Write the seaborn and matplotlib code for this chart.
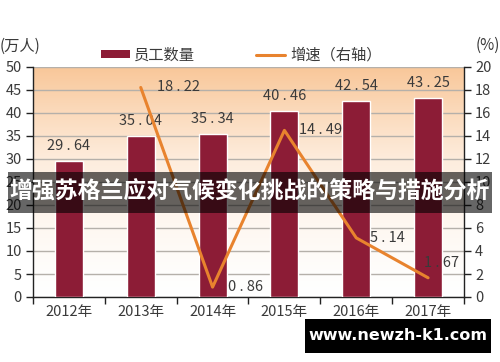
import numpy as np
import pandas as pd
import matplotlib
matplotlib.use("Agg")
import matplotlib.pyplot as plt
import seaborn as sns
from matplotlib.patches import Patch, Rectangle
from matplotlib.lines import Line2D
from matplotlib.colors import LinearSegmentedColormap

# ---- data ----
years = ['2012年', '2013年', '2014年', '2015年', '2016年', '2017年']
staff = [29.64, 35.04, 35.34, 40.46, 42.54, 43.25]
growth = [np.nan, 18.22, 0.86, 14.49, 5.14, 1.67]
left_ticks = [0, 5, 10, 15, 20, 25, 30, 35, 40, 45, 50]
right_ticks = [0, 2, 4, 6, 8, 10, 12, 14, 16, 18, 20]
bar_name = '员工数量'
line_name = '增速（右轴）'
left_unit = '(万人)'
right_unit = '(%)'
banner = '增强苏格兰应对气候变化挑战的策略与措施分析'
watermark = 'www.newzh-k1.com'

sns.set_theme(style='white')
plt.rcParams['font.family'] = ['Noto Sans CJK SC', 'DejaVu Sans']

BAR = '#8c1c36'
LINE = '#e8832e'
TXT = '#3a3a3a'
W, H = 500, 362
fig = plt.figure(figsize=(W / 100, H / 100), dpi=100)
ax = fig.add_axes([33 / W, 1 - 297 / H, (464 - 33) / W, (297 - 67) / H])

# gradient background
cmap = LinearSegmentedColormap.from_list('bg', [(1, 1, 1), (0.995, 0.93, 0.87), (0.975, 0.78, 0.6)])
grad = np.linspace(0, 1, 256) ** 1.3
ax.imshow(grad[::-1, None], aspect='auto', cmap=cmap, extent=[-0.5, 5.5, 0, 50],
          zorder=0, origin='upper')

df = pd.DataFrame({'year': np.arange(6), 'staff': staff, 'growth': growth})
sns.barplot(x=np.arange(6), y=staff, color=BAR, width=0.39, saturation=1, ax=ax,
            zorder=3, native_scale=True)
ax.set_xlim(-0.5, 5.5)
ax.set_ylim(0, 50)
ax.set_yticks(left_ticks)
ax.yaxis.grid(True, color='#b5b0aa', linewidth=1, zorder=1)
ax.set_axisbelow(True)
ax.set_xticks(np.arange(-0.5, 6, 1))
ax.set_xticklabels([])
ax.set_xticks(np.arange(6), minor=True)
ax.set_xticklabels(years, minor=True, fontsize=10.5, color=TXT)
ax.tick_params(axis='x', which='major', direction='out', length=5, width=1, color='#222222', bottom=True)
ax.tick_params(axis='x', which='minor', length=0, pad=6)
ax.tick_params(axis='y', direction='out', length=5, width=1, color='#222222', left=True,
               labelsize=10.5, labelcolor=TXT, pad=3)
for s in ['top', 'right']:
    ax.spines[s].set_visible(False)
for s in ['left', 'bottom']:
    ax.spines[s].set_color('#222222')
    ax.spines[s].set_linewidth(1)
ax.set_xlabel('')
ax.set_ylabel('')

for i, v in enumerate(staff):
    ax.annotate(f'{v:.2f}'.replace('.', ' . '), (i, v), xytext=(0, 15), textcoords='offset pixels',
                ha='center', va='center', fontsize=10.5, color=TXT, zorder=5)

ax2 = ax.twinx()
ax2.set_position(ax.get_position())
sns.lineplot(x=df['year'], y=df['growth'], color=LINE, linewidth=2.2, ax=ax2, zorder=4)
ax2.set_ylim(0, 20)
ax2.set_yticks(right_ticks)
ax2.set_xlim(-0.5, 5.5)
ax2.set_ylabel('')
ax2.tick_params(axis='y', direction='out', length=5, width=1, color='#222222', right=True,
                labelsize=10.5, labelcolor=TXT, pad=3)
for s in ['top', 'left', 'bottom']:
    ax2.spines[s].set_visible(False)
ax2.spines['right'].set_color('#222222')
ax2.spines['right'].set_linewidth(1)

offs = [None, (16, 0), (15, 0), (15, 0), (14, 0), (-4, 15)]
for i, v in enumerate(growth):
    if np.isnan(v):
        continue
    ax2.annotate(f'{v:.2f}'.replace('.', ' . '), (i, v), xytext=offs[i], textcoords='offset pixels',
                 ha='left', va='center', fontsize=10.5, color=TXT, zorder=5)

# legend
handles = [Patch(facecolor=BAR, edgecolor='none'), Line2D([0], [0], color=LINE, lw=2.2)]
fig.legend(handles, [bar_name, line_name], loc='center', bbox_to_anchor=(241 / W, 1 - 55 / H),
           ncol=2, frameon=False, fontsize=11, handlelength=1.9, handleheight=0.5,
           handletextpad=0.3, columnspacing=4.0, labelcolor=TXT)

fig.text(0 / W, 1 - 46 / H, left_unit, ha='left', va='center', fontsize=11, color=TXT)
fig.text(500 / W, 1 - 45 / H, right_unit, ha='right', va='center', fontsize=11, color=TXT)

# banner overlay
fig.patches.append(Rectangle((8 / W, 1 - 213 / H), 484 / W, 41 / H, transform=fig.transFigure,
                             facecolor='black', alpha=0.6, edgecolor='none', zorder=10))
fig.text(250 / W, 1 - 192 / H, banner, ha='center', va='center', fontsize=16.5,
         fontweight='bold', color='white', zorder=11)

# watermark
fig.patches.append(Rectangle((305 / W, 1 - 353 / H), 186 / W, 34 / H, transform=fig.transFigure,
                             facecolor='black', edgecolor='none', zorder=10))
fig.text(398 / W, 1 - 336 / H, watermark, ha='center', va='center', fontsize=11.5,
         fontweight='bold', color='white', family='DejaVu Sans', zorder=11)

fig.savefig('out.png', dpi=100)
